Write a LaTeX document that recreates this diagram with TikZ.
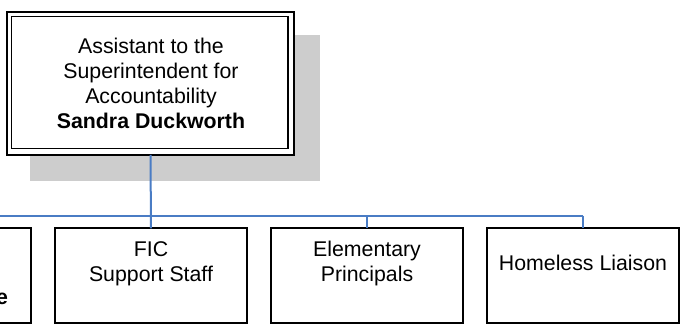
\documentclass[tikz,border=0pt]{standalone}
\usepackage{fontspec}
\setmainfont{Liberation Sans}
\definecolor{shadowgray}{HTML}{CDCDCD}
\definecolor{linkblue}{HTML}{4A7CC4}
\begin{document}
\begin{tikzpicture}[x=1pt,y=-1pt,
  every node/.style={inner sep=0pt,outer sep=0pt},
  txt/.style={font=\fontsize{21.3}{25.3}\selectfont,align=center,anchor=base},
  topbox/.style={draw=black,line width=2.3pt,fill=white,minimum width=287pt,minimum height=143pt},
  subbox/.style={draw=black,line width=1.8pt,fill=white,minimum width=192pt,minimum height=94.7pt},
  conn/.style={draw=linkblue,line width=2pt}]
\clip (0,0) rectangle (687,328);
% shadow
\fill[shadowgray] (30,35) rectangle (320,181);
% top box
\node[topbox] (top) at (150.5,83.5) {};
\draw[line width=1.2pt] ([shift={(4.5,4.5)}]top.north west) rectangle ([shift={(-6,-6.5)}]top.south east);
\node[txt] (toptext) at (151,129) {Assistant to the\\Superintendent for\\Accountability\\\textbf{Sandra Duckworth}};
% bottom boxes
\node[subbox] (left) at (-65,275.7) {};
\node[subbox] (fic) at (151,275.7) {};
\node[subbox] (elem) at (367,275.7) {};
\node[subbox] (home) at (583,275.7) {};
\node[txt] (lefttext) at (8,305) [anchor=base east] {\textbf{e}};
\node[txt] (fictext) at (151,282) {FIC\\Support Staff};
\node[txt] (elemtext) at (367,282) {Elementary\\Principals};
\node[txt] (hometext) at (583,270) {Homeless Liaison};
% connectors
\coordinate (bus) at (151,215.7);
\draw[conn] (top.south) -- (fic.north);
\draw[conn] (bus -| left.north) -- (bus -| home.north);
\draw[conn] (bus -| left.north) -- (left.north);
\draw[conn] (bus -| elem.north) -- (elem.north);
\draw[conn] (bus -| home.north) -- (home.north);
\end{tikzpicture}
\end{document}
